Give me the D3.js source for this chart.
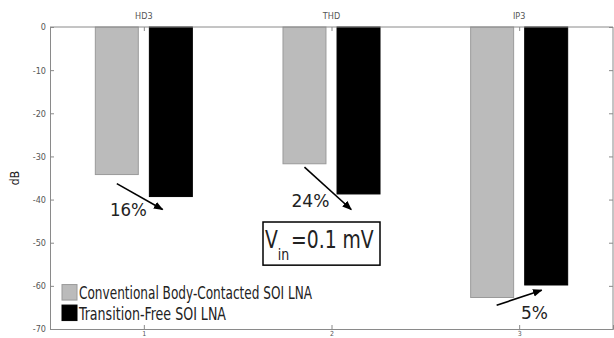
<!DOCTYPE html>
<html lang="en">
<head>
<meta charset="utf-8" />
<title>HD3 / THD / IP3</title>
<script src="https://d3js.org/d3.v7.min.js"></script>
<style>
  body { margin: 0; background: #fff; }
  text { font-family: "Liberation Sans Narrow", "DejaVu Sans Condensed", "Liberation Sans", sans-serif; }
</style>
</head>
<body>
<div id="chart"></div>
<script>
var categories = [1, 2, 3];
var topLabels = ["HD3", "THD", "IP3"];
var conventional = [-34.2, -31.7, -62.7];
var transitionFree = [-39.3, -38.7, -59.8];
var seriesNames = ["Conventional Body-Contacted SOI LNA", "Transition-Free SOI LNA"];
var yTicks = [0, -10, -20, -30, -40, -50, -60, -70];
var improvements = ["16%", "24%", "5%"];

var width = 614, height = 338;
var svg = d3.select("#chart").append("svg")
    .attr("width", width).attr("height", height);

var x = d3.scaleLinear().domain([0.5, 3.5]).range([50, 613]);
var y = d3.scaleLinear().domain([-70, 0]).range([329, 27]);

var barW = 0.229, off = 0.144;
var axisCol = "#8a8a8a";

// bars
function drawBars(vals, dx, fill, stroke) {
  svg.selectAll(null).data(vals).enter().append("rect")
    .attr("x", function(d, i) { return x(categories[i] + dx - barW / 2); })
    .attr("y", y(0))
    .attr("width", x(barW) - x(0))
    .attr("height", function(d) { return y(d) - y(0); })
    .attr("fill", fill).attr("stroke", stroke).attr("stroke-width", 1);
}
drawBars(conventional, -off, "#bbbbbb", "#9a9a9a");
drawBars(transitionFree, off, "#000", "#000");

// axes
var plain = function(d) { return String(d); };
var axLeft = svg.append("g").attr("transform", "translate(" + x(0.5) + ",0)")
  .call(d3.axisLeft(y).tickValues(yTicks).tickSize(-4).tickPadding(4).tickFormat(plain));
var axRight = svg.append("g").attr("transform", "translate(" + x(3.5) + ",0)")
  .call(d3.axisLeft(y).tickValues(yTicks).tickSize(4).tickFormat(""));
var axBottom = svg.append("g").attr("transform", "translate(0," + y(-70) + ")")
  .call(d3.axisBottom(x).tickValues(categories).tickSize(-4).tickPadding(-2).tickFormat(plain));
var axTop = svg.append("g").attr("transform", "translate(0," + y(0) + ")")
  .call(d3.axisTop(x).tickValues(categories).tickSize(-4).tickFormat(""));
[axLeft, axRight, axBottom, axTop].forEach(function(g) {
  g.selectAll("path").attr("stroke", axisCol).attr("stroke-width", 1);
  g.selectAll("line").attr("stroke", axisCol);
  g.selectAll("text").attr("fill", "#555").attr("font-size", 9);
});
axLeft.selectAll("text").attr("x", -4);
axBottom.selectAll("text").attr("font-size", 7).attr("y", 2);
axRight.select("path").remove();
axTop.select("path").remove();
svg.append("line").attr("x1", x(3.5)).attr("x2", x(3.5)).attr("y1", y(0)).attr("y2", y(-70))
  .attr("stroke", axisCol);
svg.append("line").attr("x1", x(0.5)).attr("x2", x(3.5)).attr("y1", y(0)).attr("y2", y(0))
  .attr("stroke", axisCol);

// top category labels
svg.selectAll(null).data(topLabels).enter().append("text")
  .attr("x", function(d, i) { return x(categories[i]); })
  .attr("y", 19).attr("text-anchor", "middle")
  .attr("font-size", 9).attr("fill", "#555").text(function(d) { return d; });

// y label
svg.append("text").attr("transform", "translate(19," + y(-35) + ") rotate(-90)")
  .attr("text-anchor", "middle").attr("font-size", 12).attr("fill", "#222").text("dB");

// arrows and percentage labels
var defs = svg.append("defs");
defs.append("marker").attr("id", "ah").attr("viewBox", "0 0 10 10")
  .attr("refX", 9).attr("refY", 5).attr("markerWidth", 6).attr("markerHeight", 6)
  .attr("orient", "auto").append("path").attr("d", "M0,1 L10,5 L0,9 Z").attr("fill", "#000");

var arrows = [
  { x1: 1 - off, y1: -36.3, x2: 1 + 0.1, y2: -42.3, tx: 0.918, ty: -43.8, w: 37 },
  { x1: 2 - off, y1: -32.5, x2: 2 + 0.105, y2: -42.3, tx: 1.888, ty: -41.8, w: 38 },
  { x1: 3 - 0.12, y1: -64.5, x2: 3 + 0.12, y2: -61.0, tx: 3.082, ty: -67.7, w: 27 }
];
arrows.forEach(function(a, i) {
  svg.append("line").attr("x1", x(a.x1)).attr("y1", y(a.y1))
    .attr("x2", x(a.x2)).attr("y2", y(a.y2))
    .attr("stroke", "#000").attr("stroke-width", 1.6).attr("marker-end", "url(#ah)");
  svg.append("text").attr("x", x(a.tx) - a.w / 2).attr("y", y(a.ty))
    .attr("font-size", 18).attr("fill", "#222")
    .attr("textLength", a.w).attr("lengthAdjust", "spacingAndGlyphs")
    .text(improvements[i]);
});

// Vin box
var by = y(-45.2);
svg.append("rect").attr("x", 263).attr("y", by).attr("width", 117).attr("height", y(-55.2) - by)
  .attr("fill", "#fff").attr("stroke", "#000").attr("stroke-width", 1.5);
var vg = svg.append("g").attr("transform", "translate(265," + y(-51.2) + ")");
var vt = vg.append("text").attr("font-size", 24).attr("fill", "#222");
vt.append("tspan").text("V");
vt.append("tspan").attr("dy", 12).attr("font-size", 16).text("in");
vt.append("tspan").attr("dy", -12).attr("dx", 2).text("=0.1 mV");
var vw = vt.node().getComputedTextLength();
vg.attr("transform", "translate(265," + y(-51.2) + ") scale(" + (107 / vw) + ",1)");

// legend
var legend = svg.append("g");
var swFill = ["#bbbbbb", "#000"], swStroke = ["#9a9a9a", "#000"];
var legW = [233, 147];
seriesNames.forEach(function(n, i) {
  var ly = y(-59.7) + i * 20.5;
  legend.append("rect").attr("x", 62).attr("y", ly).attr("width", 15).attr("height", 15.5)
    .attr("fill", swFill[i]).attr("stroke", swStroke[i]);
  legend.append("text").attr("x", 79).attr("y", ly + 14.5)
    .attr("font-size", 18).attr("fill", "#222")
    .attr("textLength", legW[i]).attr("lengthAdjust", "spacingAndGlyphs").text(n);
});
</script>
</body>
</html>
